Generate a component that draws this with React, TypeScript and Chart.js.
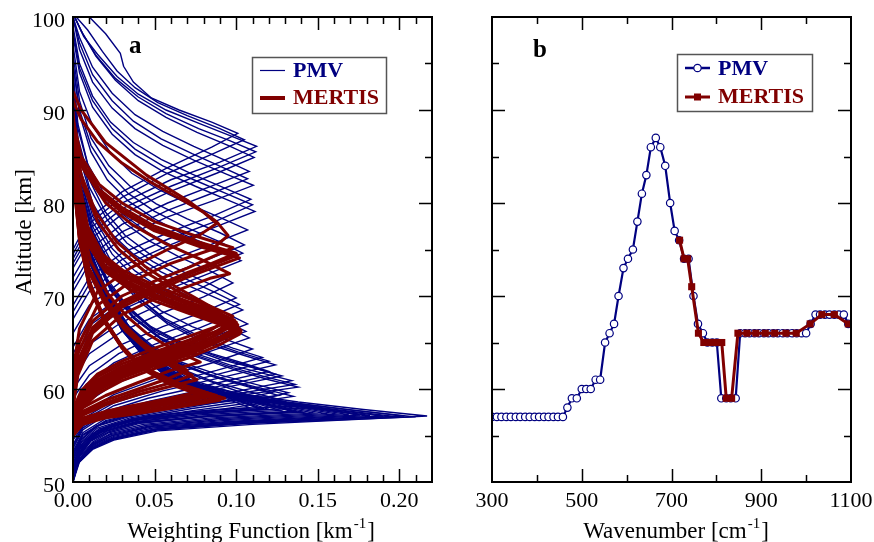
import React, { useEffect, useRef } from 'react';
import { Chart, registerables } from 'chart.js';
Chart.register(...registerables);

const NAVY = '#000080';
const MAROON = '#800000';
const FONT = '"Liberation Serif", "Times New Roman", serif';

// ---------- Panel a: weighting functions, each curve = [weighting, altitude] pairs ----------
const pmvPeak57 = [
  [[0,50],[0.003,52],[0.012,53.5],[0.025,54.5],[0.052,55.5],[0.11,56.2],[0.217,57.1],[0.178,57.8],[0.138,58.6],[0.098,59.6],[0.072,61],[0.054,63],[0.037,66],[0.022,70],[0.01,74],[0.003,78.5],[0,83]],
  [[0,50],[0.003,52],[0.012,53.6],[0.025,54.6],[0.052,55.6],[0.108,56.3],[0.21,57.0],[0.172,57.7],[0.134,58.5],[0.096,59.5],[0.07,60.9],[0.053,62.9],[0.036,65.8],[0.021,70],[0.009,74],[0.002,79],[0,84]],
  [[0,50],[0.003,52.1],[0.011,53.6],[0.024,54.6],[0.05,55.6],[0.104,56.3],[0.203,57.1],[0.168,57.8],[0.131,58.6],[0.094,59.6],[0.07,61],[0.052,63],[0.036,66],[0.021,70],[0.009,74],[0.003,78.5],[0,83]],
  [[0,50.1],[0.003,52.2],[0.012,53.7],[0.025,54.7],[0.051,55.65],[0.102,56.35],[0.197,57.05],[0.163,57.75],[0.128,58.55],[0.092,59.6],[0.068,61],[0.051,63],[0.035,66],[0.021,70],[0.009,74],[0.003,78.5],[0,83]],
  [[0,50],[0.004,52.2],[0.012,53.8],[0.025,54.8],[0.05,55.7],[0.1,56.4],[0.19,57.1],[0.158,57.8],[0.124,58.6],[0.09,59.7],[0.067,61],[0.05,63],[0.034,66],[0.02,70],[0.009,74],[0.003,78.5],[0,83]],
  [[0,50.2],[0.004,52.3],[0.012,53.9],[0.025,54.9],[0.049,55.8],[0.098,56.45],[0.182,57.15],[0.152,57.85],[0.12,58.65],[0.088,59.7],[0.066,61],[0.05,63],[0.034,66],[0.02,70],[0.009,74],[0.002,79],[0,84]],
  [[0,50.3],[0.004,52.4],[0.012,54],[0.024,55],[0.048,55.9],[0.095,56.5],[0.176,57.2],[0.148,57.9],[0.117,58.7],[0.087,59.7],[0.065,61],[0.049,63],[0.033,66],[0.02,70],[0.008,74.5],[0.003,79],[0,84]],
  [[0,50.3],[0.004,52.4],[0.012,54],[0.024,55],[0.047,55.95],[0.092,56.6],[0.169,57.25],[0.143,57.95],[0.114,58.75],[0.085,59.75],[0.064,61.05],[0.048,63.05],[0.033,66],[0.02,70],[0.008,74.5],[0.003,79],[0,84]],
  [[0,50.4],[0.004,52.5],[0.012,54.2],[0.023,55.2],[0.045,56.1],[0.088,56.8],[0.155,57.35],[0.132,58.05],[0.107,58.85],[0.082,59.85],[0.062,61.2],[0.047,63.2],[0.032,66.1],[0.019,70],[0.008,74.5],[0.002,79.5],[0,85]],
  [[0,50.5],[0.004,52.5],[0.012,54.1],[0.023,55.1],[0.046,56],[0.09,56.7],[0.162,57.3],[0.138,58],[0.111,58.8],[0.084,59.8],[0.063,61.1],[0.048,63.1],[0.033,66],[0.02,70],[0.008,74.5],[0.003,79],[0,84]],
  [[0,50.7],[0.004,52.7],[0.012,54.3],[0.022,55.3],[0.043,56.2],[0.085,56.9],[0.148,57.4],[0.127,58.1],[0.104,58.9],[0.08,59.9],[0.061,61.2],[0.047,63.2],[0.032,66],[0.019,70],[0.008,74.5],[0.003,79.5],[0,85]],
  [[0,50.8],[0.004,52.8],[0.011,54.4],[0.022,55.4],[0.041,56.3],[0.082,57],[0.141,57.5],[0.122,58.2],[0.1,59],[0.078,60],[0.059,61.3],[0.045,63.3],[0.031,66.2],[0.019,70.2],[0.008,74.5],[0.002,80],[0,85]],
  [[0,50.9],[0.004,52.9],[0.011,54.5],[0.021,55.5],[0.04,56.35],[0.081,57.05],[0.137,57.55],[0.12,58.25],[0.099,59.05],[0.077,60],[0.059,61.3],[0.045,63.3],[0.031,66.2],[0.019,70.1],[0.008,75],[0.002,80],[0,85]],
  [[0,51],[0.004,52.9],[0.011,54.5],[0.021,55.5],[0.04,56.4],[0.08,57.1],[0.134,57.6],[0.118,58.3],[0.098,59.1],[0.077,60],[0.059,61.3],[0.046,63.3],[0.032,66.2],[0.019,70],[0.008,75],[0.003,80],[0,85]],
  [[0,51.1],[0.004,53],[0.011,54.6],[0.02,55.6],[0.039,56.5],[0.077,57.2],[0.127,57.7],[0.113,58.4],[0.095,59.2],[0.075,60.1],[0.057,61.4],[0.044,63.4],[0.03,66.3],[0.018,70.2],[0.008,75],[0.002,80],[0,85]],
  [[0,51.2],[0.004,53.1],[0.011,54.7],[0.02,55.7],[0.038,56.6],[0.075,57.3],[0.12,57.8],[0.108,58.5],[0.092,59.3],[0.074,60.2],[0.058,61.4],[0.045,63.4],[0.031,66.3],[0.018,70],[0.008,75],[0.003,80],[0,85]],
  [[0,51.3],[0.004,53.15],[0.011,54.75],[0.02,55.75],[0.037,56.65],[0.073,57.35],[0.117,57.85],[0.105,58.55],[0.09,59.35],[0.073,60.25],[0.057,61.45],[0.044,63.45],[0.03,66.3],[0.018,70.2],[0.008,75],[0.002,80],[0,85]],
  [[0,51.4],[0.004,53.2],[0.011,54.8],[0.02,55.8],[0.037,56.7],[0.072,57.4],[0.114,57.9],[0.103,58.6],[0.088,59.4],[0.072,60.3],[0.056,61.5],[0.043,63.5],[0.03,66.4],[0.018,70.3],[0.008,75],[0.002,80],[0,85]],
  [[0,51.5],[0.004,53.3],[0.011,54.9],[0.02,55.9],[0.036,56.8],[0.07,57.5],[0.108,58],[0.098,58.7],[0.085,59.5],[0.07,60.4],[0.056,61.5],[0.044,63.5],[0.031,66.4],[0.018,70],[0.008,75],[0.003,80],[0,85]],
  [[0,51.6],[0.004,53.5],[0.012,55],[0.024,56],[0.045,56.9],[0.09,57.6],[0.15,58],[0.128,58.6],[0.104,59.4],[0.08,60.3],[0.06,61.6],[0.046,63.6],[0.032,66.5],[0.019,70.3],[0.008,75],[0.002,80],[0,85]],
  [[0,51.8],[0.004,53.7],[0.012,55.2],[0.024,56.2],[0.045,57.1],[0.088,57.8],[0.142,58.2],[0.122,58.8],[0.1,59.6],[0.078,60.5],[0.059,61.8],[0.045,63.8],[0.031,66.7],[0.019,70.4],[0.008,75],[0.002,80],[0,85]],
];
const pmvPeak59 = [
  [[0,52],[0.005,54],[0.015,55.5],[0.035,56.6],[0.07,57.6],[0.108,58.5],[0.135,59.2],[0.115,60.1],[0.09,61.2],[0.068,62.5],[0.05,64.3],[0.035,66.5],[0.022,70],[0.01,75],[0.003,80],[0,86]],
  [[0,52],[0.005,53.8],[0.016,55.3],[0.038,56.4],[0.075,57.4],[0.128,58.8],[0.108,59.7],[0.086,60.8],[0.066,62.2],[0.048,64],[0.034,66.5],[0.021,70],[0.009,75],[0.002,80],[0,86]],
  [[0,52.3],[0.005,54.2],[0.016,55.7],[0.037,56.8],[0.073,57.9],[0.118,59],[0.132,59.6],[0.112,60.5],[0.088,61.6],[0.066,62.9],[0.049,64.6],[0.034,66.8],[0.021,70.2],[0.01,75],[0.003,80],[0,86]],
  [[0,52.5],[0.005,54.3],[0.015,55.8],[0.035,56.9],[0.07,58],[0.1,58.9],[0.122,59.6],[0.104,60.5],[0.083,61.6],[0.064,62.9],[0.047,64.6],[0.033,67],[0.021,70.5],[0.009,75.5],[0.002,81],[0,87]],
  [[0,52.6],[0.005,54.5],[0.015,56],[0.034,57],[0.068,58.1],[0.126,59.3],[0.108,60.2],[0.086,61.3],[0.066,62.6],[0.048,64.4],[0.034,66.7],[0.021,70.2],[0.009,75],[0.002,81],[0,87]],
  [[0,52.8],[0.005,54.6],[0.014,56],[0.033,57.1],[0.065,58.2],[0.112,59.1],[0.097,60],[0.078,61.2],[0.06,62.6],[0.045,64.4],[0.032,66.8],[0.02,70.3],[0.009,75.3],[0.002,81],[0,87]],
];
const pmvPeak61 = [
  [[0,53],[0.006,55],[0.02,56.5],[0.05,57.8],[0.09,59],[0.138,60.2],[0.12,61],[0.1,62],[0.075,63.5],[0.055,65.2],[0.038,67.5],[0.024,70.5],[0.012,75],[0.004,81],[0,87]],
  [[0,53.1],[0.006,55.1],[0.02,56.6],[0.05,57.9],[0.09,59.2],[0.136,60.5],[0.118,61.3],[0.098,62.3],[0.074,63.7],[0.054,65.4],[0.037,67.6],[0.023,70.6],[0.011,75],[0.003,81],[0,87]],
  [[0,53.3],[0.006,55.3],[0.02,56.8],[0.05,58.1],[0.09,59.4],[0.134,60.9],[0.116,61.7],[0.096,62.6],[0.072,64],[0.053,65.6],[0.037,67.8],[0.023,70.8],[0.011,75.3],[0.003,81.5],[0,88]],
  [[0,53.6],[0.006,55.6],[0.019,57.1],[0.048,58.5],[0.086,59.9],[0.128,61.4],[0.11,62.3],[0.09,63.2],[0.068,64.6],[0.05,66.2],[0.035,68.4],[0.022,71.3],[0.01,75.8],[0.003,82],[0,88]],
  [[0,53.8],[0.006,55.8],[0.019,57.3],[0.047,58.7],[0.084,60.1],[0.124,61.6],[0.107,62.5],[0.088,63.5],[0.066,64.9],[0.049,66.5],[0.034,68.7],[0.021,71.5],[0.01,76],[0.003,82],[0,88]],
  [[0,54],[0.006,56],[0.019,57.5],[0.046,59],[0.082,60.4],[0.12,61.9],[0.104,62.8],[0.085,63.8],[0.064,65.2],[0.047,66.8],[0.033,69],[0.021,71.8],[0.01,76.2],[0.003,82.5],[0,89]],
];
const pmvPeak63 = [
  [[0,54.5],[0.008,56.5],[0.025,58.2],[0.055,59.8],[0.09,61.2],[0.124,62.6],[0.105,63.6],[0.08,65],[0.058,67],[0.04,69.5],[0.025,72.5],[0.012,76.5],[0.004,82],[0,88]],
  [[0,54.8],[0.008,56.8],[0.025,58.5],[0.055,60.1],[0.089,61.6],[0.12,63],[0.101,64],[0.078,65.4],[0.057,67.3],[0.04,69.8],[0.025,72.8],[0.012,76.8],[0.004,82],[0,88]],
  [[0,55],[0.008,57],[0.025,58.8],[0.055,60.5],[0.088,62],[0.116,63.4],[0.098,64.4],[0.076,65.8],[0.056,67.6],[0.039,70],[0.024,73],[0.012,77],[0.004,82.5],[0,89]],
  [[0,55.5],[0.008,57.6],[0.025,59.4],[0.053,61.2],[0.085,62.8],[0.11,64.3],[0.094,65.3],[0.073,66.7],[0.054,68.4],[0.038,70.6],[0.024,73.5],[0.012,77.5],[0.004,83],[0,89]],
];
const pmvPeak67 = [
  [[0,56],[0.008,58.5],[0.025,60.5],[0.05,62.2],[0.08,63.8],[0.108,65.5],[0.094,66.7],[0.075,68.3],[0.055,70],[0.038,72],[0.024,74.5],[0.012,78],[0.004,83],[0,90]],
  [[0,56.5],[0.008,59],[0.025,61.1],[0.05,62.8],[0.08,64.5],[0.106,66.2],[0.092,67.4],[0.074,69],[0.055,70.7],[0.038,72.7],[0.024,75.1],[0.012,78.6],[0.004,83.5],[0,90]],
  [[0,57],[0.008,59.5],[0.025,61.7],[0.05,63.5],[0.08,65.2],[0.107,67],[0.093,68.2],[0.074,69.7],[0.055,71.4],[0.038,73.4],[0.024,75.8],[0.012,79.2],[0.004,84],[0,91]],
  [[0,58],[0.008,60.5],[0.025,62.8],[0.05,64.8],[0.078,66.6],[0.104,68.5],[0.09,69.6],[0.072,71],[0.054,72.6],[0.037,74.5],[0.023,76.8],[0.012,80],[0.004,85],[0,92]],
];
const pmvPeak71 = [
  [[0,59],[0.01,61.5],[0.028,63.8],[0.052,65.8],[0.08,67.5],[0.102,69.1],[0.087,70.4],[0.067,72],[0.049,73.7],[0.033,75.7],[0.021,78.2],[0.01,81.7],[0.003,86.5],[0,92]],
  [[0,60],[0.01,62.5],[0.03,64.8],[0.055,66.7],[0.08,68.3],[0.1,69.8],[0.085,71.2],[0.065,72.8],[0.047,74.5],[0.032,76.5],[0.02,79],[0.01,82.5],[0.003,87],[0,93]],
  [[0,61],[0.01,63.8],[0.03,66.2],[0.055,68.2],[0.08,69.9],[0.098,71.4],[0.084,72.7],[0.065,74.2],[0.047,75.9],[0.032,77.8],[0.02,80.2],[0.01,83.5],[0.003,88],[0,94]],
  [[0,62],[0.01,64.8],[0.03,67.2],[0.055,69.2],[0.079,70.9],[0.096,72.4],[0.083,73.6],[0.064,75.1],[0.046,76.8],[0.031,78.7],[0.019,81],[0.009,84.2],[0.003,88.5],[0,94]],
];
const pmvPeak75 = [
  [[0,63],[0.01,66],[0.03,68.5],[0.055,70.5],[0.08,72.2],[0.103,73.8],[0.088,75.1],[0.068,76.6],[0.05,78.3],[0.034,80.2],[0.021,82.5],[0.011,85.5],[0.004,89.5],[0,95]],
  [[0,63.8],[0.01,66.8],[0.03,69.3],[0.056,71.3],[0.081,73],[0.104,74.6],[0.089,75.9],[0.069,77.4],[0.05,79.1],[0.034,81],[0.022,83.2],[0.011,86.2],[0.004,90],[0,95]],
  [[0,64.5],[0.01,67.5],[0.03,70],[0.056,72.1],[0.082,73.9],[0.105,75.5],[0.09,76.8],[0.07,78.3],[0.051,79.9],[0.035,81.8],[0.022,84],[0.011,87],[0.004,91],[0,96]],
  [[0,66],[0.01,69],[0.03,71.6],[0.057,73.7],[0.084,75.5],[0.107,77.1],[0.092,78.3],[0.072,79.8],[0.053,81.4],[0.036,83.2],[0.023,85.4],[0.012,88.3],[0.004,92],[0,97]],
];
const pmvPeak80 = [
  [[0,67.5],[0.01,70.5],[0.03,73.2],[0.058,75.4],[0.087,77.4],[0.1115,79.1],[0.095,80.3],[0.075,81.8],[0.055,83.4],[0.038,85.2],[0.024,87.4],[0.012,90.3],[0.004,94],[0,98]],
  [[0,68.3],[0.01,71.3],[0.03,73.9],[0.058,76.1],[0.087,78],[0.11,79.8],[0.094,81],[0.074,82.5],[0.055,84],[0.038,85.8],[0.024,88],[0.012,91],[0.004,94.5],[0,98.5]],
  [[0,69],[0.01,72],[0.03,74.6],[0.058,76.8],[0.087,78.7],[0.109,80.4],[0.093,81.6],[0.073,83.1],[0.054,84.7],[0.037,86.5],[0.023,88.7],[0.012,91.5],[0.004,95],[0,99]],
  [[0,70.5],[0.01,73.5],[0.03,76.2],[0.058,78.5],[0.087,80.3],[0.1105,81.9],[0.094,83.1],[0.074,84.6],[0.055,86.2],[0.038,88],[0.024,90.2],[0.012,93],[0.004,96.5],[0,100]],
];
const pmvPeak86 = [
  [[0,71.2],[0.01,74.2],[0.03,76.9],[0.058,79.2],[0.086,81.1],[0.107,82.6],[0.092,83.8],[0.073,85.3],[0.054,86.9],[0.037,88.8],[0.024,91],[0.012,93.8],[0.004,97.2],[0,100]],
  [[0,72],[0.01,75],[0.03,77.7],[0.058,80],[0.086,81.9],[0.108,83.4],[0.093,84.6],[0.074,86.1],[0.055,87.7],[0.038,89.5],[0.024,91.8],[0.012,94.6],[0.004,97.8],[0,100]],
  [[0,73],[0.01,76],[0.03,78.8],[0.059,81.2],[0.088,83.2],[0.111,84.9],[0.095,86.2],[0.076,87.6],[0.057,89.2],[0.04,91],[0.026,93.2],[0.014,95.8],[0.005,98.5],[0.001,100]],
  [[0,73.5],[0.01,76.6],[0.03,79.4],[0.06,81.8],[0.089,83.8],[0.112,85.5],[0.096,86.7],[0.077,88],[0.057,89.6],[0.04,91.4],[0.026,93.4],[0.014,95.9],[0.006,98.2],[0.001,100]],
  [[0,74],[0.01,77.2],[0.03,80],[0.06,82.5],[0.09,84.4],[0.1125,86.1],[0.097,87.2],[0.078,88.5],[0.057,90],[0.04,91.7],[0.027,93.6],[0.015,96],[0.0066,97.9],[0.001,100]],
  [[0,74.5],[0.01,77.8],[0.03,80.6],[0.058,83.2],[0.086,85.3],[0.105,86.8],[0.09,88],[0.07,89.4],[0.052,90.8],[0.038,92.4],[0.027,94.2],[0.018,96.3],[0.009,98.6],[0.002,100]],
  [[0,75],[0.01,78.3],[0.03,81.2],[0.058,83.8],[0.085,86],[0.101,87.5],[0.085,88.7],[0.065,90],[0.048,91.3],[0.037,93],[0.031,94.7],[0.029,96.1],[0.02,98.2],[0.01,100]],
];

const mertisPeak59 = [
  [[0,55],[0.006,56.3],[0.02,57],[0.037,57.4],[0.062,58.1],[0.093,59],[0.075,59.8],[0.058,60.9],[0.045,62],[0.032,64],[0.02,67],[0.01,71],[0.004,76],[0,83]],
  [[0,55.1],[0.006,56.4],[0.02,57.1],[0.038,57.5],[0.062,58.2],[0.091,59.1],[0.074,59.9],[0.057,61],[0.044,62.1],[0.032,64.1],[0.02,67.1],[0.01,71.1],[0.004,76.2],[0,83.5]],
  [[0,55.2],[0.006,56.5],[0.02,57.2],[0.037,57.7],[0.06,58.4],[0.088,59.3],[0.071,60.1],[0.055,61.2],[0.043,62.3],[0.031,64.3],[0.019,67.3],[0.01,71.3],[0.004,76.5],[0,84]],
  [[0,55.3],[0.006,56.6],[0.02,57.3],[0.037,57.8],[0.06,58.5],[0.086,59.4],[0.07,60.2],[0.054,61.3],[0.042,62.4],[0.03,64.4],[0.019,67.4],[0.01,71.4],[0.004,76.5],[0,84]],
  [[0,55.4],[0.006,56.7],[0.02,57.4],[0.036,57.9],[0.059,58.6],[0.084,59.5],[0.068,60.3],[0.053,61.4],[0.041,62.5],[0.03,64.5],[0.019,67.5],[0.01,71.5],[0.004,76.8],[0,84.5]],
  [[0,55.5],[0.006,56.8],[0.02,57.5],[0.036,58],[0.058,58.7],[0.082,59.6],[0.067,60.4],[0.052,61.5],[0.041,62.6],[0.03,64.6],[0.019,67.6],[0.01,71.6],[0.004,77],[0,85]],
  [[0,55.6],[0.006,56.9],[0.02,57.6],[0.036,58.2],[0.057,58.9],[0.079,59.8],[0.065,60.6],[0.051,61.7],[0.04,62.8],[0.029,64.8],[0.018,67.8],[0.009,71.8],[0.004,77.2],[0,85]],
  [[0,55],[0.006,56.2],[0.02,56.9],[0.038,57.3],[0.063,58],[0.09,58.8],[0.074,59.6],[0.058,60.6],[0.046,61.8],[0.033,63.8],[0.021,66.8],[0.011,70.8],[0.004,76],[0,83]],
];
const mertisPeak62 = [
  [[0,55.8],[0.006,57.2],[0.02,58.3],[0.04,59.4],[0.06,60.3],[0.076,61],[0.066,61.9],[0.055,63],[0.044,64.4],[0.032,66.3],[0.02,69],[0.01,72.5],[0.004,77.5],[0,85]],
  [[0,56],[0.006,57.6],[0.02,58.8],[0.04,60],[0.058,61.1],[0.07,62],[0.062,62.8],[0.052,63.8],[0.042,65.1],[0.031,67],[0.02,69.6],[0.01,73],[0.004,78],[0,86]],
  [[0,56.1],[0.006,57.4],[0.02,58.5],[0.04,59.7],[0.059,60.6],[0.073,61.5],[0.064,62.3],[0.053,63.4],[0.043,64.7],[0.031,66.6],[0.02,69.3],[0.01,72.7],[0.004,77.7],[0,85.5]],
  [[0,56.3],[0.006,58],[0.02,59.3],[0.04,60.7],[0.06,62],[0.078,62.9],[0.068,63.7],[0.057,64.7],[0.045,66],[0.033,67.8],[0.021,70.3],[0.011,73.7],[0.004,78.5],[0,86]],
];
const mertisPeak66 = [
  [[0,55.8],[0.005,57.8],[0.015,59.5],[0.03,60.9],[0.05,62.2],[0.07,63.3],[0.088,64.6],[0.102,65.9],[0.089,67],[0.07,68.2],[0.051,69.4],[0.034,70.8],[0.02,72.6],[0.009,75.6],[0.003,80.5],[0,87]],
  [[0,56],[0.005,58],[0.015,59.8],[0.03,61.2],[0.05,62.5],[0.07,63.6],[0.087,64.9],[0.103,66.3],[0.088,67.4],[0.068,68.6],[0.05,69.8],[0.033,71.2],[0.019,73],[0.009,76],[0.003,81],[0,88]],
  [[0,56.1],[0.005,58.1],[0.015,59.9],[0.03,61.3],[0.05,62.6],[0.07,63.8],[0.087,65.1],[0.102,66.5],[0.087,67.6],[0.068,68.8],[0.05,70],[0.033,71.4],[0.019,73.2],[0.009,76.2],[0.003,81.2],[0,88]],
  [[0,56.3],[0.005,58.3],[0.015,60.1],[0.03,61.5],[0.05,62.8],[0.07,64],[0.086,65.2],[0.101,66.7],[0.087,67.8],[0.068,69],[0.05,70.2],[0.033,71.6],[0.019,73.4],[0.009,76.4],[0.003,81.5],[0,88]],
  [[0,56.4],[0.005,58.4],[0.015,60.2],[0.03,61.6],[0.05,62.9],[0.07,64.1],[0.087,65.4],[0.103,66.1],[0.088,67.3],[0.068,68.6],[0.05,69.9],[0.033,71.3],[0.019,73.1],[0.009,76.1],[0.003,81],[0,88]],
  [[0,56.6],[0.005,58.6],[0.015,60.4],[0.03,61.8],[0.05,63.1],[0.07,64.3],[0.086,65.6],[0.1,67.1],[0.086,68.2],[0.067,69.4],[0.049,70.6],[0.032,72],[0.019,73.8],[0.009,76.8],[0.003,82],[0,89]],
  [[0,56.7],[0.005,58.7],[0.015,60.5],[0.03,61.9],[0.05,63.2],[0.07,64.4],[0.086,65.7],[0.1,67.2],[0.086,68.3],[0.067,69.5],[0.049,70.7],[0.032,72.1],[0.019,73.9],[0.009,76.9],[0.003,82.2],[0,89]],
  [[0,56.9],[0.005,58.9],[0.015,60.7],[0.03,62.1],[0.05,63.4],[0.069,64.6],[0.085,65.9],[0.099,67.4],[0.085,68.5],[0.066,69.7],[0.049,70.9],[0.032,72.3],[0.019,74.1],[0.009,77.1],[0.003,82.5],[0,89]],
  [[0,57],[0.005,59],[0.015,60.8],[0.03,62.2],[0.05,63.6],[0.069,64.8],[0.085,66],[0.1,66.8],[0.086,68],[0.066,69.4],[0.048,70.8],[0.031,72.4],[0.018,74.4],[0.008,77.6],[0.003,82.6],[0,89]],
  [[0,57.2],[0.005,59.2],[0.015,61],[0.03,62.4],[0.05,63.8],[0.068,65],[0.084,66.3],[0.098,67.8],[0.084,68.9],[0.065,70.1],[0.048,71.3],[0.031,72.7],[0.018,74.5],[0.009,77.5],[0.003,83],[0,90]],
  [[0,57.5],[0.005,59.5],[0.015,61.3],[0.03,62.7],[0.05,64],[0.07,65.2],[0.088,66.2],[0.101,66.9],[0.086,68.5],[0.065,70.4],[0.045,72.5],[0.028,75],[0.015,78],[0.006,82],[0,87]],
  [[0,57.8],[0.005,59.8],[0.015,61.6],[0.03,63],[0.05,64.4],[0.07,65.6],[0.086,66.6],[0.097,67.3],[0.083,69],[0.063,71],[0.044,73.2],[0.027,75.8],[0.014,79],[0.005,83],[0,88]],
];
const mertisPeak74 = [
  [[0,58],[0.003,61.5],[0.012,65.2],[0.03,68],[0.05,69.7],[0.07,71],[0.084,71.9],[0.096,72.4],[0.08,73.8],[0.057,75.6],[0.036,77.7],[0.02,80],[0.007,83.5],[0,88]],
  [[0,58],[0.003,62],[0.012,66],[0.03,68.8],[0.05,70.5],[0.07,72],[0.085,73],[0.102,74.1],[0.078,75.3],[0.05,77],[0.03,79],[0.0165,81],[0.005,84],[0,88]],
  [[0,58.5],[0.003,62.5],[0.012,66.3],[0.03,69.1],[0.05,70.8],[0.07,72.3],[0.085,73.3],[0.101,74.4],[0.077,75.6],[0.05,77.2],[0.03,79.2],[0.016,81.2],[0.005,84.2],[0,88.5]],
  [[0,59],[0.003,63],[0.012,66.6],[0.03,69.4],[0.05,71],[0.07,72.5],[0.085,73.5],[0.1,74.6],[0.077,75.8],[0.05,77.5],[0.03,79.5],[0.016,81.5],[0.005,84.5],[0,89]],
  [[0,60],[0.003,63.8],[0.012,67.3],[0.03,70],[0.05,71.6],[0.07,73],[0.084,74.1],[0.098,75.2],[0.076,76.4],[0.05,78],[0.03,80],[0.016,82],[0.005,85],[0,89]],
];
const mertisPeak77 = [
  [[0,60],[0.004,65],[0.015,69],[0.035,71.5],[0.06,73.5],[0.085,75],[0.095,76.5],[0.088,78],[0.07,80.3],[0.045,83],[0.02,86.5],[0.005,90],[0,92]],
  [[0,62],[0.004,66.5],[0.015,70.5],[0.035,73],[0.058,75],[0.078,76.6],[0.088,77.8],[0.08,79],[0.062,80.8],[0.047,82.3],[0.03,84.3],[0.015,86.6],[0.005,89],[0,91]],
];

// ---------- Panel b: altitude of the weighting-function peak ----------
const pmvWavenumber = [300,311,321,332,342,353,363,374,384,395,405,416,426,437,447,458,468,478,489,500,510,520,531,541,552,562,572,582,593,603,614,624,634,644,654,665,675,686,697,707,717,728,738,749,759,770,780,791,801,811,822,832,843,853,864,874,885,895,906,916,927,937,948,958,969,979,990,1000,1010,1021,1031,1042,1052,1063,1073,1084,1094];
const pmvPeakAltitude = [57,57,57,57,57,57,57,57,57,57,57,57,57,57,57,57,58,59,59,60,60,60,61,61,65,66,67,70,73,74,75,78,81,83,86,87,86,84,80,77,76,74,74,70,67,66,65,65,65,59,59,59,59,66,66,66,66,66,66,66,66,66,66,66,66,66,66,66,67,68,68,68,68,68,68,68,67];
const mertisWavenumber = [718,728,736,745,760,772,787,801,812,822,834,848,868,888,909,930,955,978,1009,1035,1063,1094];
const mertisPeakAltitude = [76,74,74,71,66,65,65,65,65,59,59,66,66,66,66,66,66,66,67,68,68,67];

const wfTickLabels = [0, 0.05, 0.1, 0.15, 0.2];
const altTickLabels = [50, 60, 70, 80, 90, 100];
const wnTickLabels = [300, 500, 700, 900, 1100];

// ---------- drawing helpers ----------
const isMult = (v: number, step: number) => Math.abs(v / step - Math.round(v / step)) < 1e-6;

function drawFrameTicks(chart: any, o: any) {
  const { ctx, chartArea: { left, right, top, bottom }, scales: { x, y } } = chart;
  ctx.save();
  ctx.strokeStyle = '#000';
  ctx.lineWidth = 1.5;
  ctx.beginPath();
  for (let i = 0; ; i++) {
    const v = o.xMin + i * o.xMinor;
    if (v > o.xMax + 1e-9) break;
    const px = Math.round(x.getPixelForValue(v)) + 0.5;
    if (px <= left + 2 || px >= right - 2) continue;
    const len = isMult(v - o.xMin, o.xMajor) ? 13 : 7;
    ctx.moveTo(px, bottom); ctx.lineTo(px, bottom - len);
    ctx.moveTo(px, top); ctx.lineTo(px, top + len);
  }
  for (let i = 0; ; i++) {
    const v = o.yMin + i * o.yMinor;
    if (v > o.yMax + 1e-9) break;
    const py = Math.round(y.getPixelForValue(v)) + 0.5;
    if (py <= top + 2 || py >= bottom - 2) continue;
    const len = isMult(v - o.yMin, o.yMajor) ? 13 : 7;
    ctx.moveTo(left, py); ctx.lineTo(left + len, py);
    ctx.moveTo(right, py); ctx.lineTo(right - len, py);
  }
  ctx.stroke();
  ctx.lineWidth = 2;
  ctx.strokeRect(left, top, right - left, bottom - top);
  ctx.restore();
}

function drawSupTitle(ctx: any, main: string, sup: string, tail: string, cx: number, baseline: number, size: number) {
  ctx.save();
  ctx.fillStyle = '#000';
  ctx.textBaseline = 'alphabetic';
  ctx.textAlign = 'left';
  const big = `${size}px ${FONT}`;
  const small = `${Math.round(size * 0.65)}px ${FONT}`;
  ctx.font = big; const w1 = ctx.measureText(main).width; const w3 = ctx.measureText(tail).width;
  ctx.font = small; const w2 = ctx.measureText(sup).width;
  const x0 = cx - (w1 + w2 + w3) / 2;
  ctx.font = big; ctx.fillText(main, x0, baseline);
  ctx.font = small; ctx.fillText(sup, x0 + w1 + 1, baseline - size * 0.42);
  ctx.font = big; ctx.fillText(tail, x0 + w1 + w2 + 2, baseline);
  ctx.restore();
}

function legendText(ctx: any, text: string, color: string, x: number, y: number) {
  ctx.font = `bold 22px ${FONT}`;
  ctx.fillStyle = color;
  ctx.textAlign = 'left';
  ctx.textBaseline = 'middle';
  ctx.fillText(text, x, y);
}

const tickFont = { family: FONT, size: 22 };

const curveDataset = (curve: number[][], color: string, width: number, order: number) => ({
  data: curve.map(([wf, alt]) => ({ x: wf, y: alt })),
  borderColor: color,
  backgroundColor: color,
  borderWidth: width,
  pointRadius: 0,
  showLine: true,
  tension: 0,
  fill: false,
  order,
  borderJoinStyle: width > 2 ? 'round' : 'miter',
});

const App = () => {
  const refA = useRef<HTMLCanvasElement>(null);
  const refB = useRef<HTMLCanvasElement>(null);

  useEffect(() => {
    const pmvCurves = [...pmvPeak57, ...pmvPeak59, ...pmvPeak61, ...pmvPeak63, ...pmvPeak67, ...pmvPeak71, ...pmvPeak75, ...pmvPeak80, ...pmvPeak86];
    const mertisCurves = [...mertisPeak59, ...mertisPeak62, ...mertisPeak66, ...mertisPeak74, ...mertisPeak77];

    const chartA = new Chart(refA.current as HTMLCanvasElement, {
      type: 'scatter',
      data: {
        datasets: [
          ...mertisCurves.map((c) => curveDataset(c, MAROON, 3, 0)),
          ...pmvCurves.map((c) => curveDataset(c, NAVY, 1.4, 1)),
        ] as any,
      },
      options: {
        responsive: false,
        animation: false,
        events: [],
        layout: { padding: { left: 0, right: 28, top: 17, bottom: 0 } },
        plugins: { legend: { display: false }, tooltip: { enabled: false } },
        scales: {
          x: {
            type: 'linear', min: 0, max: 0.22,
            afterBuildTicks: (s: any) => { s.ticks = wfTickLabels.map((v) => ({ value: v })); },
            ticks: { font: tickFont, color: '#000', padding: 6, maxRotation: 0, autoSkip: false, callback: (v: any) => Number(v).toFixed(2) },
            grid: { display: false, drawTicks: false },
            border: { display: false },
            afterFit: (s: any) => { s.height = 60; s.paddingLeft = 0; s.paddingRight = 0; },
          },
          y: {
            type: 'linear', min: 50, max: 100,
            afterBuildTicks: (s: any) => { s.ticks = altTickLabels.map((v) => ({ value: v })); },
            ticks: { font: tickFont, color: '#000', padding: 8, labelOffset: 4, autoSkip: false, callback: (v: any) => String(v) },
            grid: { display: false, drawTicks: false },
            border: { display: false },
            afterFit: (s: any) => { s.width = 73; s.paddingTop = 0; s.paddingBottom = 0; },
          },
        },
      } as any,
      plugins: [{
        id: 'decorA',
        afterDatasetsDraw(chart: any) {
          drawFrameTicks(chart, { xMin: 0, xMax: 0.22, xMinor: 0.01, xMajor: 0.05, yMin: 50, yMax: 100, yMinor: 5, yMajor: 10 });
        },
        afterDraw(chart: any) {
          const ctx = chart.ctx;
          drawSupTitle(ctx, 'Weighting Function [km', '-1', ']', 250, 538, 23);
          ctx.save();
          ctx.translate(31, 232);
          ctx.rotate(-Math.PI / 2);
          ctx.font = `23px ${FONT}`;
          ctx.fillStyle = '#000';
          ctx.textAlign = 'center';
          ctx.textBaseline = 'alphabetic';
          ctx.fillText('Altitude [km]', 0, 0);
          ctx.restore();
          ctx.save();
          ctx.font = `bold 25px ${FONT}`;
          ctx.fillStyle = '#000';
          ctx.textAlign = 'left';
          ctx.textBaseline = 'alphabetic';
          ctx.fillText('a', 129, 53);
          ctx.fillStyle = '#fff';
          ctx.fillRect(252, 57, 134, 56);
          ctx.strokeStyle = '#555';
          ctx.lineWidth = 1.5;
          ctx.strokeRect(252.5, 57.5, 134, 56);
          ctx.strokeStyle = NAVY; ctx.lineWidth = 1.2;
          ctx.beginPath(); ctx.moveTo(260, 70.5); ctx.lineTo(285, 70.5); ctx.stroke();
          ctx.strokeStyle = MAROON; ctx.lineWidth = 4;
          ctx.beginPath(); ctx.moveTo(260, 98); ctx.lineTo(285, 98); ctx.stroke();
          legendText(ctx, 'PMV', NAVY, 293, 71);
          legendText(ctx, 'MERTIS', MAROON, 293, 98);
          ctx.restore();
        },
      }],
    });

    const chartB = new Chart(refB.current as HTMLCanvasElement, {
      type: 'scatter',
      data: {
        datasets: [
          {
            data: mertisWavenumber.map((w, i) => ({ x: w, y: mertisPeakAltitude[i] })),
            borderColor: MAROON, backgroundColor: MAROON, borderWidth: 3,
            pointStyle: 'rect', pointRadius: 5, pointBackgroundColor: MAROON, pointBorderColor: MAROON, pointBorderWidth: 0,
            showLine: true, tension: 0, order: 0,
          },
          {
            data: pmvWavenumber.map((w, i) => ({ x: w, y: pmvPeakAltitude[i] })),
            borderColor: NAVY, backgroundColor: '#fff', borderWidth: 2.2,
            pointStyle: 'circle', pointRadius: 3.7, pointBackgroundColor: '#fff', pointBorderColor: NAVY, pointBorderWidth: 1.2,
            showLine: true, tension: 0, order: 1,
          },
        ] as any,
      },
      options: {
        responsive: false,
        animation: false,
        events: [],
        layout: { padding: { left: 32, right: 23, top: 17, bottom: 0 } },
        plugins: { legend: { display: false }, tooltip: { enabled: false } },
        scales: {
          x: {
            type: 'linear', min: 300, max: 1100,
            afterBuildTicks: (s: any) => { s.ticks = wnTickLabels.map((v) => ({ value: v })); },
            ticks: { font: tickFont, color: '#000', padding: 6, maxRotation: 0, autoSkip: false, callback: (v: any) => String(v) },
            grid: { display: false, drawTicks: false },
            border: { display: false },
            afterFit: (s: any) => { s.height = 60; s.paddingLeft = 0; s.paddingRight = 0; },
          },
          y: {
            type: 'linear', min: 50, max: 100, display: false,
          },
        },
      } as any,
      plugins: [{
        id: 'decorB',
        afterDatasetsDraw(chart: any) {
          drawFrameTicks(chart, { xMin: 300, xMax: 1100, xMinor: 100, xMajor: 200, yMin: 50, yMax: 100, yMinor: 5, yMajor: 10 });
        },
        afterDraw(chart: any) {
          const ctx = chart.ctx;
          drawSupTitle(ctx, 'Wavenumber [cm', '-1', ']', 215, 538, 23);
          ctx.save();
          ctx.font = `bold 25px ${FONT}`;
          ctx.fillStyle = '#000';
          ctx.textAlign = 'left';
          ctx.textBaseline = 'alphabetic';
          ctx.fillText('b', 73, 57);
          ctx.fillStyle = '#fff';
          ctx.fillRect(217, 54, 135, 57);
          ctx.strokeStyle = '#555';
          ctx.lineWidth = 1.5;
          ctx.strokeRect(217.5, 54.5, 135, 57);
          ctx.strokeStyle = NAVY; ctx.lineWidth = 2.5;
          ctx.beginPath(); ctx.moveTo(225, 68); ctx.lineTo(250, 68); ctx.stroke();
          ctx.fillStyle = '#fff'; ctx.lineWidth = 1.2;
          ctx.beginPath(); ctx.arc(237.5, 68, 3.7, 0, Math.PI * 2); ctx.fill(); ctx.stroke();
          ctx.strokeStyle = MAROON; ctx.lineWidth = 3;
          ctx.beginPath(); ctx.moveTo(225, 97); ctx.lineTo(250, 97); ctx.stroke();
          ctx.fillStyle = MAROON; ctx.fillRect(234, 93.5, 7, 7);
          legendText(ctx, 'PMV', NAVY, 258, 69);
          legendText(ctx, 'MERTIS', MAROON, 258, 97);
          ctx.restore();
        },
      }],
    });

    return () => { chartA.destroy(); chartB.destroy(); };
  }, []);

  return (
    <div style={{ position: 'fixed', left: 0, top: 0, width: 874, height: 542, overflow: 'hidden', background: '#fff' }}>
      <canvas ref={refA} width={460} height={542} style={{ position: 'absolute', left: 0, top: 0 }} />
      <canvas ref={refB} width={414} height={542} style={{ position: 'absolute', left: 460, top: 0 }} />
    </div>
  );
};

export default App;
